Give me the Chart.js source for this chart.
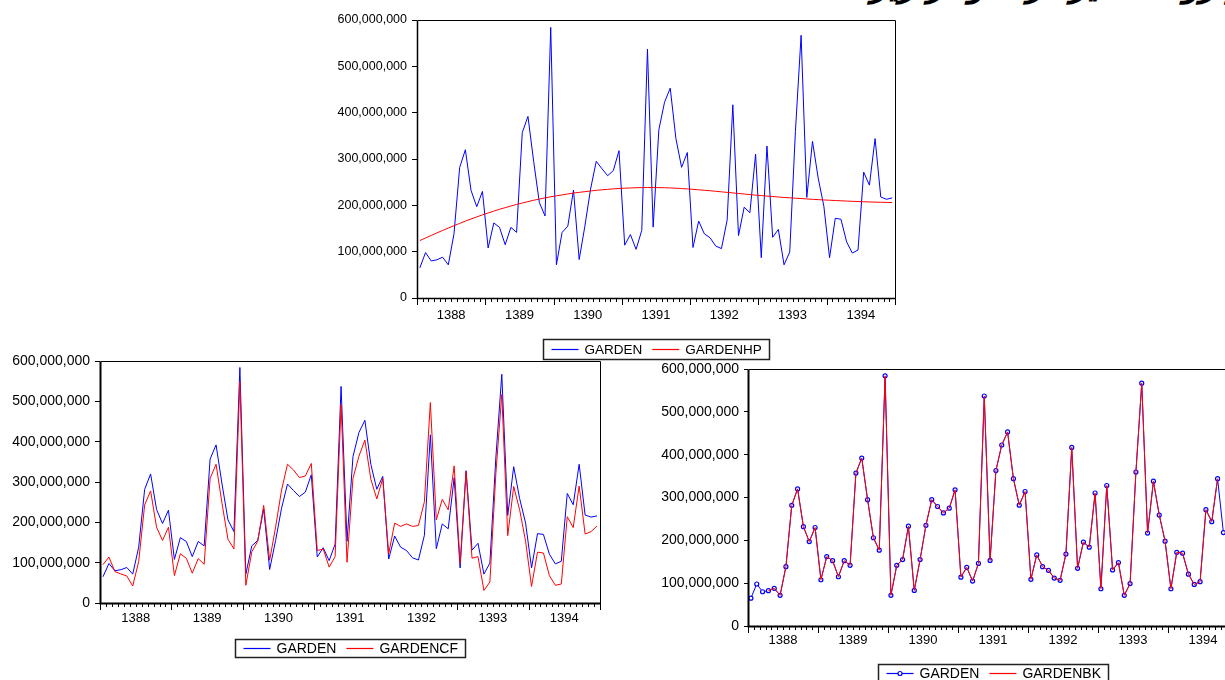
<!DOCTYPE html>
<html>
<head>
<meta charset="utf-8">
<title>GARDEN — HP, CF, BK</title>
<script src="https://cdn.jsdelivr.net/npm/chart.js@4/dist/chart.umd.min.js"></script>
<style>
  html, body { margin: 0; padding: 0; width: 1225px; height: 680px; overflow: hidden; background: #fff; }
  .panel { position: absolute; }
  .panel canvas { display: block; }
  .caption {
    position: absolute; left: 858px; top: -33px; white-space: nowrap;
    direction: rtl; font: italic bold 34px "DejaVu Sans", sans-serif; line-height: 34px; color: #000;
  }
</style>
</head>
<body>
<div class="caption">چرخه و روند متغیر در نمودار زیر.</div>
<div class="panel" style="left:300px;top:0px;"><canvas id="hp" width="620" height="365"></canvas></div>
<div class="panel" style="left:0px;top:330px;"><canvas id="cf" width="620" height="350"></canvas></div>
<div class="panel" style="left:640px;top:340px;"><canvas id="bk" width="620" height="340"></canvas></div>
<script>
// Monthly observations, 1388:01 – 1394:12
const years = ['1388', '1389', '1390', '1391', '1392', '1393', '1394'];
const months = ['01', '02', '03', '04', '05', '06', '07', '08', '09', '10', '11', '12'];
const periods = years.flatMap(y => months.map(m => y + ':' + m));

const yTicks = [0, 100e6, 200e6, 300e6, 400e6, 500e6, 600e6];

const garden = [
  65e6, 98e6, 80e6, 82.5e6, 88e6, 71.6e6, 138.5e6, 281.7e6, 320e6, 232e6, 197e6, 230e6,
  108e6, 162e6, 152.5e6, 115e6, 152.5e6, 141.6e6, 357e6, 392e6, 295e6, 206e6, 177e6, 584e6,
  71.6e6, 141.6e6, 155e6, 233e6, 83e6, 155e6, 235e6, 295e6, 279e6, 264e6, 275e6, 318e6,
  114e6, 137e6, 105e6, 146e6, 537e6, 153e6, 363e6, 422.6e6, 453e6, 344e6, 282e6, 314e6,
  109e6, 166e6, 138.5e6, 130e6, 112e6, 106.6e6, 168e6, 417e6, 134.6e6, 196e6, 184e6, 310.5e6,
  87e6, 328e6, 131e6, 148e6, 71.6e6, 99e6, 359.5e6, 567e6, 217e6, 338e6, 259e6, 198e6,
  87e6, 172e6, 170e6, 121e6, 97e6, 103.5e6, 271.6e6, 243.6e6, 344e6, 218e6, 213e6, 216e6
];

const gardenHP = [
  124e6, 129.5e6, 135e6, 140.5e6, 145.8e6, 151e6, 156e6, 161e6, 166e6, 170.5e6, 175e6, 179.5e6,
  183.5e6, 187.5e6, 191.5e6, 195e6, 198.5e6, 202e6, 205e6, 208e6, 211e6, 213.5e6, 216e6, 218.5e6,
  220.5e6, 222.5e6, 224.5e6, 226.5e6, 228e6, 229.5e6, 231e6, 232.5e6, 233.5e6, 234.5e6, 235.5e6, 236.5e6,
  237e6, 237.5e6, 238e6, 238.2e6, 238.4e6, 238.4e6, 238.2e6, 238e6, 237.5e6, 237e6, 236.2e6, 235.4e6,
  234.5e6, 233.5e6, 232.5e6, 231.5e6, 230.3e6, 229.1e6, 228e6, 226.8e6, 225.6e6, 224.4e6, 223.2e6, 222e6,
  221e6, 220e6, 219e6, 218e6, 217e6, 216.2e6, 215.4e6, 214.6e6, 213.8e6, 213e6, 212.3e6, 211.6e6,
  211e6, 210.4e6, 209.8e6, 209.2e6, 208.7e6, 208.2e6, 207.7e6, 207.3e6, 206.9e6, 206.6e6, 206.3e6, 206e6
];

const gardenCF = [
  95e6, 114e6, 78e6, 72e6, 67e6, 42e6, 103e6, 243e6, 278e6, 188e6, 155e6, 188e6,
  68e6, 122e6, 111e6, 74e6, 110e6, 96e6, 309e6, 344e6, 247e6, 158e6, 134e6, 548e6,
  44e6, 127e6, 153e6, 242e6, 106e6, 188e6, 280e6, 344e6, 330e6, 311e6, 315e6, 346e6,
  130e6, 134e6, 89e6, 115e6, 492e6, 101e6, 309e6, 364e6, 404e6, 307e6, 258e6, 309e6,
  122e6, 198e6, 190e6, 196e6, 190e6, 192e6, 251e6, 497e6, 206e6, 257e6, 231e6, 340e6,
  99e6, 326e6, 111e6, 115e6, 31e6, 52e6, 320e6, 517e6, 167e6, 289e6, 231e6, 153e6,
  41e6, 126e6, 124e6, 68e6, 44e6, 47e6, 214e6, 187e6, 290e6, 171e6, 177e6, 191e6
];

const gardenBK = [
  null, null, null, 82.5e6, 88e6, 71.6e6, 138.5e6, 281.7e6, 320e6, 232e6, 197e6, 230e6,
  108e6, 162e6, 152.5e6, 115e6, 152.5e6, 141.6e6, 357e6, 392e6, 295e6, 206e6, 177e6, 584e6,
  71.6e6, 141.6e6, 155e6, 233e6, 83e6, 155e6, 235e6, 295e6, 279e6, 264e6, 275e6, 318e6,
  114e6, 137e6, 105e6, 146e6, 537e6, 153e6, 363e6, 422.6e6, 453e6, 344e6, 282e6, 314e6,
  109e6, 166e6, 138.5e6, 130e6, 112e6, 106.6e6, 168e6, 417e6, 134.6e6, 196e6, 184e6, 310.5e6,
  87e6, 328e6, 131e6, 148e6, 71.6e6, 99e6, 359.5e6, 567e6, 217e6, 338e6, 259e6, 198e6,
  87e6, 172e6, 170e6, 121e6, 97e6, 103.5e6, 271.6e6, 243.6e6, 344e6, null, null, null
];

const FONT = '"Liberation Sans", Arial, sans-serif';
const BLUE = '#0000ff';
const RED = '#ff0000';

// Box frame, monthly minor ticks and yearly major ticks on the time axis
const frameTicks = {
  id: 'frameTicks',
  afterDraw(chart, args, o) {
    const { ctx, chartArea: a, scales: { x } } = chart;
    ctx.save();
    ctx.strokeStyle = '#000';
    ctx.lineWidth = 1;
    ctx.beginPath();
    for (let k = 0; k <= periods.length; k++) {
      const px = Math.round(x.getPixelForValue(k - 0.5)) + 0.5;
      const len = (k % 12 === 0) ? o.major : o.minor;
      ctx.moveTo(px, a.bottom);
      ctx.lineTo(px, a.bottom + len);
    }
    ctx.stroke();
    const L = Math.round(a.left) + 0.5, R = Math.round(a.right) + 0.5;
    const T = Math.round(a.top) + 0.5, B = Math.round(a.bottom) + 0.5;
    ctx.beginPath();
    ctx.moveTo(L, T); ctx.lineTo(R, T); ctx.lineTo(R, B);
    ctx.stroke();
    ctx.lineWidth = o.axisWidth;
    ctx.beginPath();
    ctx.moveTo(L, T); ctx.lineTo(L, B); ctx.lineTo(R, B);
    ctx.stroke();
    ctx.restore();
  }
};

// Framed legend centred under the plot
const boxLegend = {
  id: 'boxLegend',
  afterDraw(chart, args, o) {
    const { ctx, chartArea: a } = chart;
    ctx.save();
    ctx.font = o.size + 'px ' + FONT;
    const items = chart.data.datasets.map(ds => ({ ds, w: ctx.measureText(ds.label).width }));
    let W = o.padL + o.padR;
    items.forEach((it, i) => { W += o.line + o.gap + it.w + (i ? o.sep : 0); });
    const x0 = Math.round((a.left + a.right) / 2 - W / 2) + 0.5;
    const y0 = Math.round(o.top) + 0.5;
    ctx.strokeStyle = '#222';
    ctx.lineWidth = 1.5;
    ctx.strokeRect(x0, y0, Math.round(W), o.h);
    const ym = Math.round(o.top + o.h / 2) + 0.5;
    let x = x0 + o.padL;
    items.forEach((it, i) => {
      if (i) x += o.sep;
      ctx.strokeStyle = it.ds.borderColor;
      ctx.lineWidth = 1.2;
      ctx.beginPath();
      ctx.moveTo(x, ym); ctx.lineTo(x + o.line, ym);
      ctx.stroke();
      if (it.ds.pointRadius) {
        ctx.beginPath();
        ctx.fillStyle = '#fff';
        ctx.lineWidth = it.ds.pointBorderWidth;
        ctx.arc(x + o.line / 2, ym, it.ds.pointRadius, 0, Math.PI * 2);
        ctx.fill();
        ctx.stroke();
      }
      x += o.line + o.gap;
      ctx.fillStyle = '#000';
      ctx.textBaseline = 'middle';
      ctx.textAlign = 'left';
      ctx.fillText(it.ds.label, x, ym + 1);
      x += it.w;
    });
    ctx.restore();
  }
};

function series(label, data, color, extra) {
  return Object.assign({
    label, data, borderColor: color, backgroundColor: color,
    borderWidth: 1, pointRadius: 0, tension: 0, spanGaps: false
  }, extra || {});
}

function makeChart(id, datasets, p) {
  return new Chart(document.getElementById(id), {
    type: 'line',
    data: { labels: periods, datasets },
    options: {
      responsive: false,
      animation: false,
      devicePixelRatio: 1,
      events: [],
      layout: { padding: { left: 0, right: p.padR, top: p.padT, bottom: 0 } },
      plugins: {
        legend: { display: false },
        tooltip: { enabled: false },
        frameTicks: { minor: 4, major: 7, axisWidth: p.axisWidth },
        boxLegend: p.legend
      },
      scales: {
        x: {
          type: 'category',
          offset: true,
          border: { display: false },
          grid: { display: true, drawOnChartArea: false, drawTicks: true, tickLength: 4, tickColor: 'rgba(0,0,0,0)' },
          afterBuildTicks: s => { s.ticks = years.map((y, i) => ({ value: i * 12 + 5.5 })); },
          afterFit: s => { s.height = p.xH; },
          ticks: {
            autoSkip: false, maxRotation: 0, minRotation: 0, padding: p.xPad,
            color: '#000', font: { family: FONT, size: p.xFont },
            callback: (v, i) => years[i]
          }
        },
        y: {
          min: 0, max: 600e6,
          border: { display: false },
          grid: { display: true, drawOnChartArea: false, drawTicks: true, tickLength: p.yTick, tickColor: '#000' },
          afterBuildTicks: s => { s.ticks = yTicks.map(v => ({ value: v })); },
          afterFit: s => { s.width = p.yW; },
          ticks: {
            padding: p.yPad, color: '#000', font: { family: FONT, size: p.yFont },
            callback: v => v.toLocaleString('en-US')
          }
        }
      }
    },
    plugins: [frameTicks, boxLegend]
  });
}

const legendBase = { line: 27, gap: 6, sep: 10, padL: 8, padR: 8 };

makeChart('hp', [
  series('GARDEN', garden, BLUE, { order: 1 }),
  series('GARDENHP', gardenHP, RED, { order: 0 })
], {
  padR: 25, padT: 20, yW: 117, xH: 67, xPad: 6, xFont: 13, yFont: 12.5, yTick: 5, yPad: 5, axisWidth: 1.5,
  legend: Object.assign({}, legendBase, { top: 339, h: 20, size: 13.5 })
});

makeChart('cf', [
  series('GARDEN', garden, BLUE, { order: 1 }),
  series('GARDENCF', gardenCF, RED, { order: 0 })
], {
  padR: 20, padT: 31, yW: 100, xH: 77, xPad: 4, xFont: 13, yFont: 14, yTick: 5, yPad: 5, axisWidth: 2,
  legend: Object.assign({}, legendBase, { top: 309, h: 18, size: 14 })
});

makeChart('bk', [
  series('GARDEN', garden, BLUE, {
    order: 1, pointRadius: 2, pointBorderWidth: 1.2, pointBorderColor: BLUE, pointBackgroundColor: '#fff'
  }),
  series('GARDENBK', gardenBK, RED, { order: 0 })
], {
  padR: 22, padT: 29, yW: 108, xH: 54, xPad: 3, xFont: 13, yFont: 14, yTick: 4, yPad: 5, axisWidth: 2,
  legend: Object.assign({}, legendBase, { top: 324, h: 18, size: 14 })
});
</script>
</body>
</html>
